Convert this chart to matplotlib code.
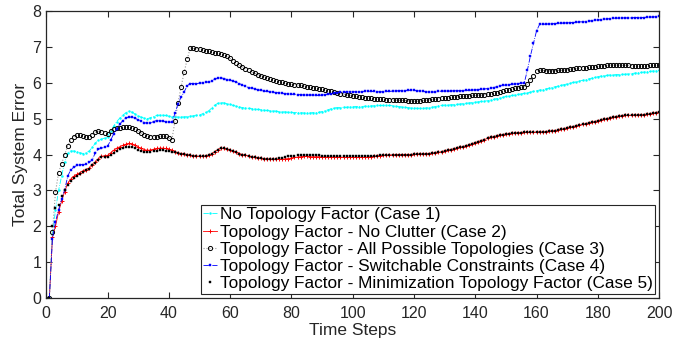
import numpy as np
import matplotlib
matplotlib.use('Agg')
import matplotlib.pyplot as plt

plt.rcParams['font.family'] = ['Liberation Sans', 'DejaVu Sans']

steps = np.arange(1, 201)

# Case 1 - No Topology Factor
case1 = [
    0, 1.80, 2.45, 3.00, 3.40, 3.80, 4.05, 4.10, 4.10, 4.08,
    4.05, 4.03, 4.05, 4.10, 4.20, 4.32, 4.40, 4.43, 4.46, 4.50,
    4.65, 4.80, 4.92, 5.02, 5.10, 5.17, 5.21, 5.18, 5.13, 5.08,
    5.04, 5.02, 5.00, 5.03, 5.06, 5.09, 5.10, 5.10, 5.09, 5.07,
    5.06, 5.05, 5.05, 5.05, 5.05, 5.06, 5.07, 5.08, 5.10, 5.10,
    5.14, 5.18, 5.22, 5.30, 5.38, 5.43, 5.45, 5.44, 5.42, 5.40,
    5.37, 5.35, 5.33, 5.31, 5.30, 5.29, 5.28, 5.27, 5.26, 5.25,
    5.24, 5.23, 5.22, 5.22, 5.21, 5.20, 5.19, 5.19, 5.18, 5.18,
    5.17, 5.17, 5.17, 5.16, 5.16, 5.16, 5.17, 5.17, 5.18, 5.20,
    5.22, 5.25, 5.28, 5.30, 5.31, 5.31, 5.32, 5.32, 5.33, 5.33,
    5.34, 5.34, 5.34, 5.35, 5.35, 5.36, 5.36, 5.37, 5.37, 5.37,
    5.37, 5.37, 5.36, 5.35, 5.34, 5.33, 5.32, 5.31, 5.30, 5.30,
    5.29, 5.29, 5.29, 5.30, 5.31, 5.32, 5.34, 5.36, 5.37, 5.38,
    5.38, 5.39, 5.39, 5.40, 5.41, 5.42, 5.43, 5.44, 5.45, 5.46,
    5.47, 5.48, 5.49, 5.50, 5.52, 5.54, 5.56, 5.58, 5.60, 5.62,
    5.63, 5.65, 5.66, 5.68, 5.69, 5.71, 5.72, 5.74, 5.76, 5.78,
    5.80, 5.81, 5.83, 5.85, 5.87, 5.89, 5.91, 5.93, 5.95, 5.97,
    5.99, 6.01, 6.03, 6.05, 6.07, 6.09, 6.11, 6.13, 6.15, 6.17,
    6.19, 6.20, 6.21, 6.22, 6.22, 6.23, 6.23, 6.24, 6.24, 6.25,
    6.26, 6.27, 6.28, 6.29, 6.30, 6.31, 6.32, 6.33, 6.34, 6.35,
]

# Case 2 - No Clutter
case2 = [
    0, 1.70, 2.00, 2.40, 2.70, 2.97, 3.20, 3.32, 3.40, 3.45,
    3.50, 3.55, 3.58, 3.62, 3.70, 3.78, 3.88, 3.95, 3.97, 3.98,
    4.05, 4.12, 4.18, 4.22, 4.26, 4.29, 4.31, 4.30, 4.26, 4.21,
    4.17, 4.14, 4.12, 4.13, 4.15, 4.17, 4.18, 4.18, 4.17, 4.15,
    4.12, 4.08, 4.05, 4.03, 4.02, 4.00, 3.98, 3.97, 3.96, 3.95,
    3.95, 3.96, 3.98, 4.02, 4.08, 4.14, 4.17, 4.17, 4.15, 4.12,
    4.09, 4.06, 4.03, 4.00, 3.98, 3.96, 3.94, 3.92, 3.91, 3.90,
    3.89, 3.88, 3.87, 3.87, 3.87, 3.87, 3.87, 3.88, 3.89, 3.90,
    3.92, 3.93, 3.94, 3.95, 3.95, 3.94, 3.94, 3.94, 3.94, 3.93,
    3.93, 3.93, 3.93, 3.93, 3.93, 3.93, 3.92, 3.92, 3.92, 3.92,
    3.92, 3.92, 3.92, 3.92, 3.93, 3.94, 3.95, 3.96, 3.97, 3.98,
    3.98, 3.99, 3.99, 4.00, 4.00, 4.00, 4.00, 4.00, 4.00, 4.01,
    4.01, 4.02, 4.02, 4.03, 4.03, 4.04, 4.05, 4.06, 4.08, 4.10,
    4.12, 4.14, 4.16, 4.18, 4.20, 4.22, 4.24, 4.27, 4.30, 4.33,
    4.36, 4.39, 4.42, 4.45, 4.48, 4.50, 4.52, 4.54, 4.56, 4.57,
    4.58, 4.59, 4.60, 4.61, 4.61, 4.62, 4.62, 4.62, 4.62, 4.63,
    4.63, 4.63, 4.64, 4.65, 4.66, 4.67, 4.68, 4.70, 4.72, 4.74,
    4.76, 4.78, 4.80, 4.82, 4.84, 4.86, 4.88, 4.90, 4.92, 4.94,
    4.96, 4.98, 5.00, 5.02, 5.04, 5.06, 5.07, 5.08, 5.09, 5.09,
    5.10, 5.10, 5.10, 5.11, 5.11, 5.12, 5.13, 5.15, 5.17, 5.19,
]

# Case 3 - All Possible Topologies
case3 = [
    0, 1.85, 2.95, 3.50, 3.75, 4.00, 4.25, 4.40, 4.50, 4.55,
    4.55, 4.52, 4.50, 4.50, 4.55, 4.63, 4.65, 4.62, 4.60, 4.58,
    4.65, 4.72, 4.74, 4.75, 4.76, 4.76, 4.76, 4.75, 4.72, 4.66,
    4.60, 4.55, 4.52, 4.50, 4.50, 4.50, 4.51, 4.51, 4.51, 4.46,
    4.42, 4.93, 5.45, 5.89, 6.30, 6.66, 6.98, 6.96, 6.95, 6.94,
    6.92, 6.90, 6.88, 6.86, 6.84, 6.82, 6.80, 6.78, 6.74, 6.68,
    6.60, 6.54, 6.49, 6.44, 6.39, 6.35, 6.31, 6.27, 6.23, 6.20,
    6.17, 6.14, 6.11, 6.08, 6.05, 6.03, 6.01, 5.99, 5.97, 5.96,
    5.95, 5.94, 5.93, 5.91, 5.89, 5.88, 5.87, 5.86, 5.84, 5.82,
    5.80, 5.78, 5.76, 5.74, 5.72, 5.70, 5.68, 5.66, 5.65, 5.64,
    5.62, 5.61, 5.60, 5.59, 5.58, 5.57, 5.56, 5.55, 5.54, 5.54,
    5.53, 5.53, 5.52, 5.52, 5.52, 5.51, 5.51, 5.50, 5.50, 5.49,
    5.49, 5.50, 5.51, 5.52, 5.53, 5.54, 5.55, 5.56, 5.57, 5.58,
    5.59, 5.60, 5.61, 5.61, 5.62, 5.62, 5.63, 5.64, 5.65, 5.65,
    5.66, 5.66, 5.67, 5.68, 5.69, 5.71, 5.73, 5.75, 5.77, 5.79,
    5.81, 5.83, 5.85, 5.87, 5.88, 5.89, 5.97, 6.08, 6.20, 6.32,
    6.36, 6.35, 6.34, 6.34, 6.34, 6.34, 6.35, 6.35, 6.36, 6.37,
    6.38, 6.39, 6.40, 6.41, 6.42, 6.42, 6.43, 6.44, 6.45, 6.46,
    6.47, 6.48, 6.49, 6.50, 6.50, 6.50, 6.50, 6.49, 6.49, 6.49,
    6.48, 6.48, 6.48, 6.48, 6.48, 6.48, 6.49, 6.49, 6.50, 6.51,
]

# Case 4 - Switchable Constraints
case4 = [
    0, 1.65, 2.13, 2.46, 2.75, 3.02, 3.40, 3.58, 3.65, 3.70,
    3.72, 3.72, 3.73, 3.78, 3.86, 4.05, 4.15, 4.18, 4.20, 4.23,
    4.40, 4.58, 4.72, 4.85, 4.95, 5.02, 5.05, 5.04, 5.01, 4.97,
    4.93, 4.89, 4.87, 4.88, 4.92, 4.95, 4.95, 4.93, 4.92, 4.91,
    4.90, 5.15, 5.42, 5.60, 5.75, 5.92, 5.98, 5.98, 5.98, 5.99,
    6.00, 6.01, 6.03, 6.06, 6.10, 6.13, 6.14, 6.12, 6.09, 6.07,
    6.05, 6.02, 5.98, 5.94, 5.90, 5.87, 5.85, 5.83, 5.81, 5.79,
    5.77, 5.76, 5.75, 5.74, 5.73, 5.72, 5.71, 5.70, 5.69, 5.68,
    5.68, 5.67, 5.67, 5.66, 5.66, 5.66, 5.66, 5.65, 5.65, 5.66,
    5.67, 5.68, 5.70, 5.72, 5.73, 5.74, 5.75, 5.75, 5.75, 5.75,
    5.75, 5.75, 5.75, 5.76, 5.76, 5.76, 5.76, 5.75, 5.75, 5.75,
    5.76, 5.76, 5.77, 5.77, 5.78, 5.78, 5.78, 5.79, 5.79, 5.79,
    5.78, 5.77, 5.76, 5.75, 5.74, 5.74, 5.75, 5.76, 5.77, 5.77,
    5.77, 5.77, 5.78, 5.78, 5.78, 5.78, 5.79, 5.79, 5.80, 5.80,
    5.81, 5.82, 5.83, 5.84, 5.85, 5.87, 5.89, 5.91, 5.93, 5.94,
    5.95, 5.96, 5.97, 5.98, 5.99, 6.00, 6.35, 6.75, 7.10, 7.45,
    7.63, 7.63, 7.64, 7.64, 7.65, 7.65, 7.66, 7.66, 7.67, 7.67,
    7.68, 7.68, 7.69, 7.70, 7.70, 7.71, 7.72, 7.73, 7.74, 7.75,
    7.76, 7.77, 7.78, 7.79, 7.80, 7.80, 7.81, 7.81, 7.81, 7.81,
    7.81, 7.82, 7.82, 7.82, 7.82, 7.83, 7.83, 7.84, 7.84, 7.85,
]

# Case 5 - Minimization Topology Factor
case5 = [
    0, 2.00, 2.50, 2.60, 2.85, 3.00, 3.15, 3.27, 3.35, 3.40,
    3.45, 3.52, 3.56, 3.60, 3.70, 3.77, 3.85, 3.92, 3.93, 3.93,
    3.98, 4.05, 4.10, 4.15, 4.18, 4.20, 4.22, 4.21, 4.18, 4.13,
    4.09, 4.07, 4.06, 4.07, 4.09, 4.11, 4.12, 4.12, 4.11, 4.10,
    4.08, 4.06, 4.04, 4.02, 4.01, 4.00, 3.98, 3.97, 3.96, 3.95,
    3.95, 3.96, 3.98, 4.02, 4.08, 4.14, 4.17, 4.17, 4.15, 4.12,
    4.09, 4.06, 4.03, 4.00, 3.98, 3.96, 3.94, 3.92, 3.91, 3.90,
    3.89, 3.88, 3.88, 3.88, 3.89, 3.90, 3.91, 3.93, 3.95, 3.96,
    3.97, 3.98, 3.99, 3.99, 3.99, 3.99, 3.98, 3.98, 3.98, 3.97,
    3.97, 3.97, 3.97, 3.96, 3.96, 3.96, 3.96, 3.96, 3.95, 3.95,
    3.95, 3.95, 3.95, 3.95, 3.95, 3.96, 3.97, 3.97, 3.98, 3.98,
    3.98, 3.99, 3.99, 4.00, 4.00, 4.00, 4.00, 4.00, 4.00, 4.01,
    4.01, 4.02, 4.02, 4.03, 4.03, 4.04, 4.05, 4.06, 4.08, 4.10,
    4.12, 4.14, 4.16, 4.18, 4.20, 4.22, 4.24, 4.27, 4.30, 4.33,
    4.36, 4.39, 4.42, 4.45, 4.48, 4.50, 4.52, 4.54, 4.56, 4.57,
    4.58, 4.59, 4.60, 4.61, 4.61, 4.62, 4.62, 4.62, 4.62, 4.63,
    4.63, 4.63, 4.64, 4.65, 4.66, 4.67, 4.68, 4.70, 4.72, 4.74,
    4.76, 4.78, 4.80, 4.82, 4.84, 4.86, 4.88, 4.90, 4.92, 4.94,
    4.96, 4.98, 5.00, 5.02, 5.04, 5.06, 5.07, 5.08, 5.09, 5.09,
    5.10, 5.10, 5.10, 5.11, 5.11, 5.12, 5.13, 5.15, 5.17, 5.19,
]

labels = [
    'No Topology Factor (Case 1)',
    'Topology Factor - No Clutter (Case 2)',
    'Topology Factor - All Possible Topologies (Case 3)',
    'Topology Factor - Switchable Constraints (Case 4)',
    'Topology Factor - Minimization Topology Factor (Case 5)',
]

fig = plt.figure(figsize=(6.88, 3.47), dpi=100)
ax = fig.add_axes([0.0673, 0.141, 0.8907, 0.827])

ax.plot(steps, case1, color='cyan', linestyle='-.', linewidth=0.6,
        marker='.', markersize=1.5, label=labels[0])
ax.plot(steps, case2, color='red', linestyle='-', linewidth=0.6,
        marker='+', markersize=3, markeredgewidth=0.7, label=labels[1])
ax.plot(steps, case3, color='0.6', linestyle=':', linewidth=0.8,
        marker='o', markersize=3, markerfacecolor='none',
        markeredgecolor='black', markeredgewidth=0.7, label=labels[2])
ax.plot(steps, case4, color='blue', linestyle='-.', linewidth=0.6,
        marker='s', markersize=1.8, markeredgewidth=0.3, label=labels[3])
ax.plot(steps, case5, color='black', linestyle='none',
        marker='s', markersize=1.6, markeredgewidth=0.3, label=labels[4])

ax.set_xlim(0, 200)
ax.set_ylim(0, 8)
ax.set_xticks(np.arange(0, 201, 20))
ax.set_yticks(np.arange(0, 9, 1))
ax.tick_params(direction='in', top=True, right=True, length=4,
               labelsize=11.5, colors='#262626')
ax.tick_params(axis='x', pad=6)
for sp in ax.spines.values():
    sp.set_color('#262626')
    sp.set_linewidth(0.9)

ax.set_xlabel('Time Steps', fontsize=12.5, color='#262626', labelpad=1)
ax.set_ylabel('Total System Error', fontsize=12.5, color='#262626', labelpad=3)

leg = ax.legend(loc='lower right', bbox_to_anchor=(0.9935, 0.014),
                fontsize=12.4, frameon=True, fancybox=False, framealpha=1,
                edgecolor='#262626', handlelength=0.8, handletextpad=0.15,
                borderpad=0.15, labelspacing=0.13, borderaxespad=0)
leg.get_frame().set_linewidth(0.8)

fig.savefig('out.png', dpi=100)
